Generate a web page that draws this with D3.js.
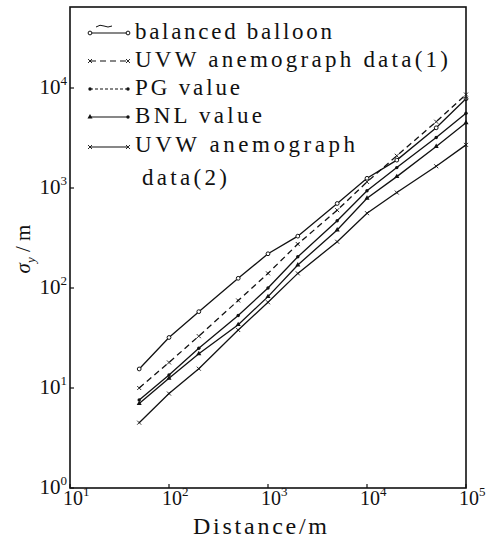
<!DOCTYPE html>
<html><head><meta charset="utf-8">
<script src="https://cdn.jsdelivr.net/npm/d3@7"></script>
<style>body{margin:0;background:#fff}svg{display:block}text{font-family:"Liberation Serif","DejaVu Serif",serif;fill:#111}</style>
</head><body>
<svg id="c" width="491" height="545"></svg>
<script>
const distances = [50, 100, 200, 500, 1000, 2000, 5000, 10000, 20000, 50000, 100000];
const balloon = [15.5, 32, 58, 125, 220, 330, 700, 1250, 1900, 4000, 7800];
const uvw1 =    [10, 18, 33, 75, 140, 275, 600, 1150, 2100, 4600, 8600];
const pg =      [7.6, 13.5, 25, 53, 100, 205, 470, 940, 1600, 3200, 5600];
const bnl =     [7.0, 12.5, 22, 43, 82, 170, 380, 790, 1300, 2600, 4500];
const uvw2 =    [4.5, 8.8, 15.6, 38, 72, 140, 290, 560, 900, 1650, 2700];
const seriesNames = ["balanced balloon", "UVW anemograph data(1)", "PG value", "BNL value", "UVW anemograph"];
const xTickExp = [1, 2, 3, 4, 5];
const yTickExp = [0, 1, 2, 3, 4];

const svg = d3.select("#c");
const x = d3.scaleLog().domain([10, 1e5]).range([70, 466]);
const y = d3.scaleLog().domain([1, Math.pow(10, 4.81)]).range([488, 7]);

const series = [
  {vals: balloon, dash: null, marker: "circle"},
  {vals: uvw1, dash: "6,4", marker: "x"},
  {vals: pg, dash: null, marker: "dot"},
  {vals: bnl, dash: null, marker: "tri"},
  {vals: uvw2, dash: null, marker: "x"}
];

const line = d3.line().x(d => x(d[0])).y(d => y(d[1]));

function drawMarker(g, type, px, py) {
  if (type === "circle") g.append("circle").attr("cx", px).attr("cy", py).attr("r", 1.9).attr("fill", "#fff").attr("stroke", "#111").attr("stroke-width", 1);
  else if (type === "dot") g.append("circle").attr("cx", px).attr("cy", py).attr("r", 1.7).attr("fill", "#111");
  else if (type === "tri") g.append("path").attr("d", d3.symbol(d3.symbolTriangle, 11)()).attr("transform", `translate(${px},${py})`).attr("fill", "#111");
  else if (type === "x") g.append("path").attr("d", `M${px-2},${py-2}L${px+2},${py+2}M${px-2},${py+2}L${px+2},${py-2}`).attr("stroke", "#111").attr("stroke-width", 0.9);
}

series.forEach(s => {
  const pts = distances.map((d, i) => [d, s.vals[i]]);
  svg.append("path").attr("d", line(pts)).attr("fill", "none").attr("stroke", "#111").attr("stroke-width", 1.3)
    .attr("stroke-dasharray", s.dash);
  const g = svg.append("g");
  pts.forEach(p => drawMarker(g, s.marker, x(p[0]), y(p[1])));
});

// frame
svg.append("rect").attr("x", 70).attr("y", 7).attr("width", 396).attr("height", 481)
  .attr("fill", "none").attr("stroke", "#111").attr("stroke-width", 1.6);

// ticks
xTickExp.forEach(e => {
  const px = x(Math.pow(10, e));
  svg.append("line").attr("x1", px).attr("x2", px).attr("y1", 488).attr("y2", 484).attr("stroke", "#111").attr("stroke-width", 1.2);
  const t = svg.append("text").attr("x", px - 7).attr("y", 505).attr("font-size", 20);
  t.append("tspan").text("10");
  t.append("tspan").attr("dy", -9).attr("font-size", 13).text(e);
});
yTickExp.forEach(e => {
  const py = y(Math.pow(10, e));
  svg.append("line").attr("x1", 70).attr("x2", 74).attr("y1", py).attr("y2", py).attr("stroke", "#111").attr("stroke-width", 1.2);
  const t = svg.append("text").attr("x", 67).attr("y", py + 6).attr("font-size", 21).attr("text-anchor", "end");
  t.append("tspan").text("10");
  t.append("tspan").attr("dy", -9).attr("font-size", 13).text(e);
});

// axis labels
svg.append("text").attr("x", 193).attr("y", 534).attr("font-size", 24)
  .attr("textLength", 134).attr("lengthAdjust", "spacing").text("Distance/m");
const yl = svg.append("text").attr("transform", "translate(30,249) rotate(-90)").attr("text-anchor", "middle").attr("font-size", 21);
yl.append("tspan").attr("font-style", "italic").text("σ");
yl.append("tspan").attr("dy", 5).attr("font-size", 13).attr("font-style", "italic").text("y");
yl.append("tspan").attr("dy", -5).text(" / m");

// legend
const legY = [33, 61, 89, 117, 147];
const legBase = [39, 67, 95, 123, 152];
const legEnd = [332, 448, 240, 262, 355];
seriesNames.forEach((n, i) => {
  const s = series[i];
  svg.append("line").attr("x1", 90).attr("x2", 128).attr("y1", legY[i]).attr("y2", legY[i])
    .attr("stroke", "#111").attr("stroke-width", 1.2).attr("stroke-dasharray", i === 1 ? "6,4" : (i === 2 ? "3,2" : null));
  const g = svg.append("g");
  drawMarker(g, s.marker, 90, legY[i]);
  drawMarker(g, i === 3 ? "dot" : s.marker, 128, legY[i]);
  svg.append("text").attr("x", 135).attr("y", legBase[i]).attr("font-size", 23)
    .attr("textLength", legEnd[i] - 135).attr("lengthAdjust", "spacing").text(n);
});
svg.append("text").attr("x", 142).attr("y", 185).attr("font-size", 23)
  .attr("textLength", 85).attr("lengthAdjust", "spacing").text("data(2)");
svg.append("path").attr("d", "M96,27 Q100,24 104,26 T112,26").attr("fill", "none").attr("stroke", "#111").attr("stroke-width", 1);
</script>
</body></html>
